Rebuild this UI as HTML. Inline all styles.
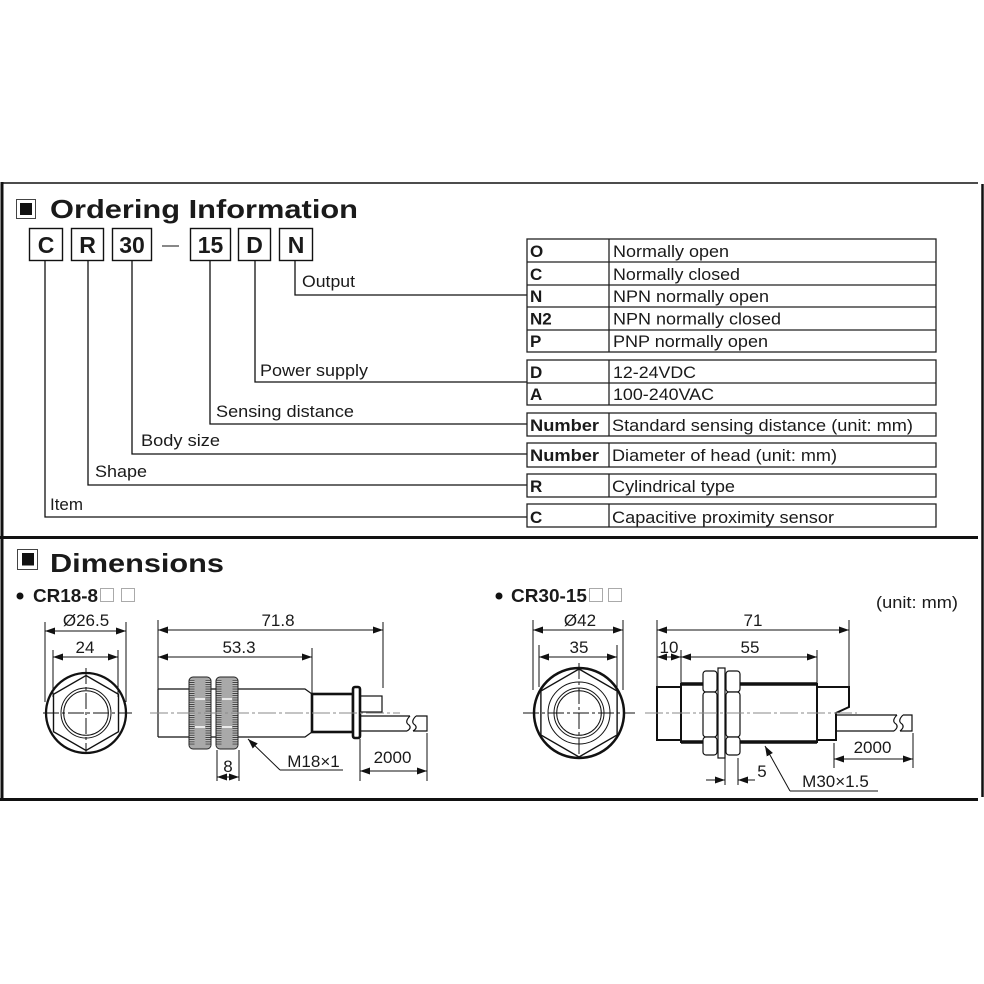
<!DOCTYPE html>
<html><head><meta charset="utf-8"><style>
html,body{margin:0;padding:0;background:#fff;}
svg{display:block;}
text{font-family:"Liberation Sans",Arial,sans-serif;fill:#1a1a1a;stroke:none;}
.b{font-weight:bold;}
</style></head><body>
<svg width="984" height="984" viewBox="0 0 984 984" xmlns="http://www.w3.org/2000/svg">
<defs>
<marker id="a" viewBox="0 0 10 7" refX="10" refY="3.5" markerWidth="10" markerHeight="7" markerUnits="userSpaceOnUse" orient="auto-start-reverse"><path d="M0,0 L10,3.5 L0,7 z" fill="#111"/></marker>
<pattern id="k" width="6" height="2.2" patternUnits="userSpaceOnUse"><rect width="6" height="2.2" fill="#c4c4c4"/><rect width="6" height="0.9" fill="#333"/></pattern>
</defs>
<rect width="984" height="984" fill="#fff"/>

<!-- frame -->
<g stroke="#111" fill="none">
<line x1="2" y1="183" x2="978" y2="183" stroke-width="1.5"/>
<line x1="2" y1="182" x2="2" y2="801" stroke-width="3"/>
<line x1="982.5" y1="184" x2="982.5" y2="797" stroke-width="2.5"/>
<line x1="0" y1="537.5" x2="978" y2="537.5" stroke-width="3"/>
<line x1="0" y1="799.5" x2="978" y2="799.5" stroke-width="3"/>
</g>

<!-- Ordering heading -->
<rect x="16.5" y="199.5" width="19" height="19" fill="none" stroke="#444" stroke-width="1"/>
<rect x="20" y="203" width="12" height="12" fill="#111"/>
<text x="50" y="218" font-size="26" class="b" textLength="308" lengthAdjust="spacingAndGlyphs">Ordering Information</text>

<!-- code boxes -->
<g fill="none" stroke="#111" stroke-width="1.4">
<rect x="29.5" y="228.5" width="33" height="32"/>
<rect x="71.5" y="228.5" width="32" height="32"/>
<rect x="112.5" y="228.5" width="39" height="32"/>
<rect x="190.5" y="228.5" width="40" height="32"/>
<rect x="238.5" y="228.5" width="32" height="32"/>
<rect x="279.5" y="228.5" width="33" height="32"/>
<line x1="162" y1="246" x2="179" y2="246" stroke-width="1"/>
</g>
<g font-size="23" class="b" text-anchor="middle">
<text x="46" y="253" class="b">C</text>
<text x="87.5" y="253" class="b">R</text>
<text x="132" y="253" class="b">30</text>
<text x="210.5" y="253" class="b">15</text>
<text x="254.5" y="253" class="b">D</text>
<text x="296" y="253" class="b">N</text>
</g>

<!-- connectors -->
<g fill="none" stroke="#111" stroke-width="1.3">
<path d="M45,261 V517 H527"/>
<path d="M88,261 V485 H527"/>
<path d="M132,261 V454 H527"/>
<path d="M210,261 V424 H527"/>
<path d="M255,261 V382 H527"/>
<path d="M295,261 V295 H527"/>
</g>
<g font-size="17">
<text x="302" y="287" textLength="53" lengthAdjust="spacingAndGlyphs">Output</text>
<text x="260" y="376" textLength="108" lengthAdjust="spacingAndGlyphs">Power supply</text>
<text x="216" y="417" textLength="138" lengthAdjust="spacingAndGlyphs">Sensing distance</text>
<text x="141" y="446" textLength="79" lengthAdjust="spacingAndGlyphs">Body size</text>
<text x="95" y="477" textLength="52" lengthAdjust="spacingAndGlyphs">Shape</text>
<text x="50" y="510" textLength="33" lengthAdjust="spacingAndGlyphs">Item</text>
</g>

<!-- tables -->
<g fill="none" stroke="#222" stroke-width="1.3">
<rect x="527" y="239" width="409" height="113"/>
<line x1="527" y1="262" x2="936" y2="262"/>
<line x1="527" y1="285" x2="936" y2="285"/>
<line x1="527" y1="307" x2="936" y2="307"/>
<line x1="527" y1="330" x2="936" y2="330"/>
<line x1="609" y1="239" x2="609" y2="352"/>
<rect x="527" y="360" width="409" height="45"/>
<line x1="527" y1="383" x2="936" y2="383"/>
<line x1="609" y1="360" x2="609" y2="405"/>
<rect x="527" y="413" width="409" height="23"/>
<line x1="609" y1="413" x2="609" y2="436"/>
<rect x="527" y="443" width="409" height="24"/>
<line x1="609" y1="443" x2="609" y2="467"/>
<rect x="527" y="474" width="409" height="23"/>
<line x1="609" y1="474" x2="609" y2="497"/>
<rect x="527" y="504" width="409" height="23"/>
<line x1="609" y1="504" x2="609" y2="527"/>
</g>
<g font-size="17">
<text x="530" y="257" class="b">O</text>
<text x="530" y="280" class="b">C</text>
<text x="530" y="302" class="b">N</text>
<text x="530" y="324.5" class="b">N2</text>
<text x="530" y="347" class="b">P</text>
<text x="530" y="378" class="b">D</text>
<text x="530" y="400" class="b">A</text>
<text x="530" y="431" class="b" textLength="69" lengthAdjust="spacingAndGlyphs">Number</text>
<text x="530" y="461" class="b" textLength="69" lengthAdjust="spacingAndGlyphs">Number</text>
<text x="530" y="492" class="b">R</text>
<text x="530" y="523" class="b">C</text>
<text x="613" y="257" textLength="116" lengthAdjust="spacingAndGlyphs">Normally open</text>
<text x="613" y="280" textLength="127" lengthAdjust="spacingAndGlyphs">Normally closed</text>
<text x="613" y="302" textLength="156" lengthAdjust="spacingAndGlyphs">NPN normally open</text>
<text x="613" y="324.5" textLength="168" lengthAdjust="spacingAndGlyphs">NPN normally closed</text>
<text x="613" y="347" textLength="155" lengthAdjust="spacingAndGlyphs">PNP normally open</text>
<text x="613" y="378" textLength="83" lengthAdjust="spacingAndGlyphs">12-24VDC</text>
<text x="613" y="400" textLength="101" lengthAdjust="spacingAndGlyphs">100-240VAC</text>
<text x="612" y="431" textLength="301" lengthAdjust="spacingAndGlyphs">Standard sensing distance (unit: mm)</text>
<text x="612" y="461" textLength="225" lengthAdjust="spacingAndGlyphs">Diameter of head (unit: mm)</text>
<text x="612" y="492" textLength="123" lengthAdjust="spacingAndGlyphs">Cylindrical type</text>
<text x="612" y="523" textLength="222" lengthAdjust="spacingAndGlyphs">Capacitive proximity sensor</text>
</g>

<!-- Dimensions heading -->
<rect x="17.5" y="549.5" width="20" height="20" fill="none" stroke="#444" stroke-width="1"/>
<rect x="22" y="553" width="12" height="12.5" fill="#111"/>
<text x="50" y="572" font-size="26" class="b" textLength="174" lengthAdjust="spacingAndGlyphs">Dimensions</text>

<circle cx="20" cy="596" r="3.5" fill="#111"/>
<text x="33" y="602" font-size="18" class="b" textLength="65" lengthAdjust="spacingAndGlyphs">CR18-8</text>
<rect x="100.5" y="588.5" width="13" height="13" fill="none" stroke="#aaa" stroke-width="1"/>
<rect x="121.5" y="588.5" width="13" height="13" fill="none" stroke="#aaa" stroke-width="1"/>
<circle cx="499" cy="596" r="3.5" fill="#111"/>
<text x="511" y="602" font-size="18" class="b" textLength="76" lengthAdjust="spacingAndGlyphs">CR30-15</text>
<rect x="589.5" y="588.5" width="13" height="13" fill="none" stroke="#aaa" stroke-width="1"/>
<rect x="608.5" y="588.5" width="13" height="13" fill="none" stroke="#aaa" stroke-width="1"/>
<text x="876" y="608" font-size="17" textLength="82" lengthAdjust="spacingAndGlyphs">(unit: mm)</text>

<!-- ===== CR18 front view ===== -->
<g fill="none" stroke="#111" stroke-width="1">
<line x1="45" y1="622" x2="45" y2="702"/>
<line x1="126" y1="622" x2="126" y2="702"/>
<line x1="45" y1="631" x2="126" y2="631" marker-start="url(#a)" marker-end="url(#a)"/>
<line x1="53" y1="650" x2="53" y2="697"/>
<line x1="118" y1="650" x2="118" y2="697"/>
<line x1="53" y1="657" x2="118" y2="657" marker-start="url(#a)" marker-end="url(#a)"/>
<circle cx="86" cy="713" r="40" stroke-width="2.3"/>
<polygon points="86,675.5 118.5,694.25 118.5,731.75 86,750.5 53.5,731.75 53.5,694.25" stroke-width="1.4"/>
<circle cx="86" cy="713" r="25"/>
<circle cx="86" cy="713" r="22.3"/>
<line x1="43" y1="713" x2="132" y2="713" stroke-dasharray="16 3 3 3"/>
<line x1="86" y1="668" x2="86" y2="752" stroke-dasharray="16 3 3 3"/>
</g>
<g font-size="17" text-anchor="middle">
<text x="86" y="626">Ø26.5</text>
<text x="85" y="653">24</text>
</g>

<!-- ===== CR18 side view ===== -->
<g fill="none" stroke="#111" stroke-width="1.2">
<path d="M158,689 H305 L312,694 M158,737 H305 L312,732 M158,689 V737"/>
<rect x="312" y="694" width="41" height="38" stroke-width="2.6"/>
<rect x="360" y="696" width="22" height="16"/>
<path d="M360,716 H410 M360,731 H407"/>
<path d="M410,716 Q404,722 409,725 Q412,728 407,731"/>
<path d="M416,716 Q410,722 415,725 Q418,728 413,731"/>
<path d="M416,716 H427 V731 H413"/>
<rect x="353" y="687" width="7" height="51" rx="2" fill="#fff" stroke-width="2.6"/>
</g>
<!-- nuts -->
<g stroke="#222" stroke-width="1">
<rect x="189" y="677" width="22" height="72" rx="4" fill="#a9a9a9"/>
<rect x="189.5" y="680" width="5" height="66" fill="url(#k)" stroke="none"/>
<rect x="205.5" y="680" width="5" height="66" fill="url(#k)" stroke="none"/>
<rect x="216" y="677" width="22" height="72" rx="4" fill="#a9a9a9"/>
<rect x="216.5" y="680" width="5" height="66" fill="url(#k)" stroke="none"/>
<rect x="232.5" y="680" width="5" height="66" fill="url(#k)" stroke="none"/>
<line x1="195" y1="699" x2="205" y2="699" stroke="#fff" stroke-width="1.5"/>
<line x1="195" y1="727" x2="205" y2="727" stroke="#fff" stroke-width="1.5"/>
<line x1="222" y1="699" x2="232" y2="699" stroke="#fff" stroke-width="1.5"/>
<line x1="222" y1="727" x2="232" y2="727" stroke="#fff" stroke-width="1.5"/>
</g>
<line x1="150" y1="713" x2="400" y2="713" stroke="#8a8a8a" stroke-width="1" stroke-dasharray="18 3 3 3"/>
<!-- CR18 dims -->
<g fill="none" stroke="#111" stroke-width="1">
<line x1="158" y1="620" x2="158" y2="689"/>
<line x1="383" y1="622" x2="383" y2="688"/>
<line x1="158" y1="630" x2="383" y2="630" marker-start="url(#a)" marker-end="url(#a)"/>
<line x1="312" y1="648" x2="312" y2="693"/>
<line x1="158" y1="657" x2="312" y2="657" marker-start="url(#a)" marker-end="url(#a)"/>
<line x1="217" y1="750" x2="217" y2="781"/>
<line x1="239" y1="750" x2="239" y2="781"/>
<line x1="217" y1="777" x2="239" y2="777" marker-start="url(#a)" marker-end="url(#a)"/>
<line x1="280" y1="770" x2="248" y2="739" marker-end="url(#a)"/>
<line x1="280" y1="770" x2="343" y2="770"/>
<line x1="360" y1="739" x2="360" y2="781"/>
<line x1="427" y1="733" x2="427" y2="781"/>
<line x1="360" y1="771" x2="427" y2="771" marker-start="url(#a)" marker-end="url(#a)"/>
</g>
<g font-size="17" text-anchor="middle">
<text x="278" y="626">71.8</text>
<text x="239" y="653">53.3</text>
<text x="228" y="772">8</text>
<text x="313.5" y="767">M18×1</text>
<text x="392.5" y="763">2000</text>
</g>

<!-- ===== CR30 front view ===== -->
<g fill="none" stroke="#111" stroke-width="1">
<line x1="533" y1="620" x2="533" y2="690"/>
<line x1="623" y1="620" x2="623" y2="690"/>
<line x1="533" y1="630" x2="623" y2="630" marker-start="url(#a)" marker-end="url(#a)"/>
<line x1="539" y1="645" x2="539" y2="687"/>
<line x1="617" y1="645" x2="617" y2="687"/>
<line x1="539" y1="657" x2="617" y2="657" marker-start="url(#a)" marker-end="url(#a)"/>
<circle cx="579" cy="713" r="45" stroke-width="2.5"/>
<polygon points="579,669 617.1,691 617.1,735 579,757 540.9,735 540.9,691" stroke-width="1.4"/>
<circle cx="579" cy="713" r="31"/>
<circle cx="579" cy="713" r="25"/>
<circle cx="579" cy="713" r="22.3"/>
<line x1="523" y1="713" x2="635" y2="713" stroke-dasharray="16 3 3 3"/>
<line x1="579" y1="663" x2="579" y2="757" stroke-dasharray="16 3 3 3"/>
</g>
<g font-size="17" text-anchor="middle">
<text x="580" y="626">Ø42</text>
<text x="579" y="653">35</text>
</g>

<!-- ===== CR30 side view ===== -->
<g fill="none" stroke="#111" stroke-width="2">
<rect x="657" y="687" width="24" height="53"/>
<rect x="681" y="684" width="136" height="58"/>
<line x1="681" y1="684" x2="817" y2="684" stroke-width="3.5"/>
<line x1="681" y1="742" x2="817" y2="742" stroke-width="3.5"/>
<path d="M817,687 H849 V707 L836,713 V740 H817"/>
<g stroke-width="1.2">
<path d="M836,715 H897 M836,731 H894"/>
<path d="M897,715 Q891,721 896,724 Q899,727 894,731"/>
<path d="M903,715 Q897,721 902,724 Q905,727 900,731"/>
<path d="M903,715 H912 V731 H900"/>
</g>
</g>
<g fill="#fff" stroke="#111" stroke-width="1.2">
<rect x="703" y="671" width="14" height="21" rx="3"/>
<rect x="703" y="692" width="14" height="45" rx="3"/>
<rect x="703" y="737" width="14" height="18" rx="3"/>
<rect x="726" y="671" width="14" height="21" rx="3"/>
<rect x="726" y="692" width="14" height="45" rx="3"/>
<rect x="726" y="737" width="14" height="18" rx="3"/>
<rect x="718" y="668" width="7" height="90"/>
</g>
<line x1="645" y1="713" x2="857" y2="713" stroke="#8a8a8a" stroke-width="1" stroke-dasharray="18 3 3 3"/>
<!-- CR30 dims -->
<g fill="none" stroke="#111" stroke-width="1">
<line x1="657" y1="620" x2="657" y2="687"/>
<line x1="849" y1="620" x2="849" y2="687"/>
<line x1="657" y1="630" x2="849" y2="630" marker-start="url(#a)" marker-end="url(#a)"/>
<line x1="681" y1="650" x2="681" y2="684"/>
<line x1="817" y1="650" x2="817" y2="684"/>
<line x1="657" y1="657" x2="681" y2="657" marker-start="url(#a)" marker-end="url(#a)"/>
<line x1="681" y1="657" x2="817" y2="657" marker-start="url(#a)" marker-end="url(#a)"/>
<line x1="725" y1="758" x2="725" y2="785"/>
<line x1="738" y1="758" x2="738" y2="785"/>
<line x1="706" y1="780" x2="725" y2="780" marker-end="url(#a)"/>
<line x1="755" y1="780" x2="738" y2="780" marker-end="url(#a)"/>
<line x1="790" y1="791" x2="765" y2="746" marker-end="url(#a)"/>
<line x1="790" y1="791" x2="878" y2="791"/>
<line x1="834" y1="743" x2="834" y2="768"/>
<line x1="913" y1="733" x2="913" y2="768"/>
<line x1="834" y1="759" x2="913" y2="759" marker-start="url(#a)" marker-end="url(#a)"/>
</g>
<g font-size="17" text-anchor="middle">
<text x="753" y="626">71</text>
<text x="669" y="653">10</text>
<text x="750" y="653">55</text>
<text x="762" y="777">5</text>
<text x="835.5" y="787">M30×1.5</text>
<text x="872.5" y="753">2000</text>
</g>
</svg>
</body></html>
